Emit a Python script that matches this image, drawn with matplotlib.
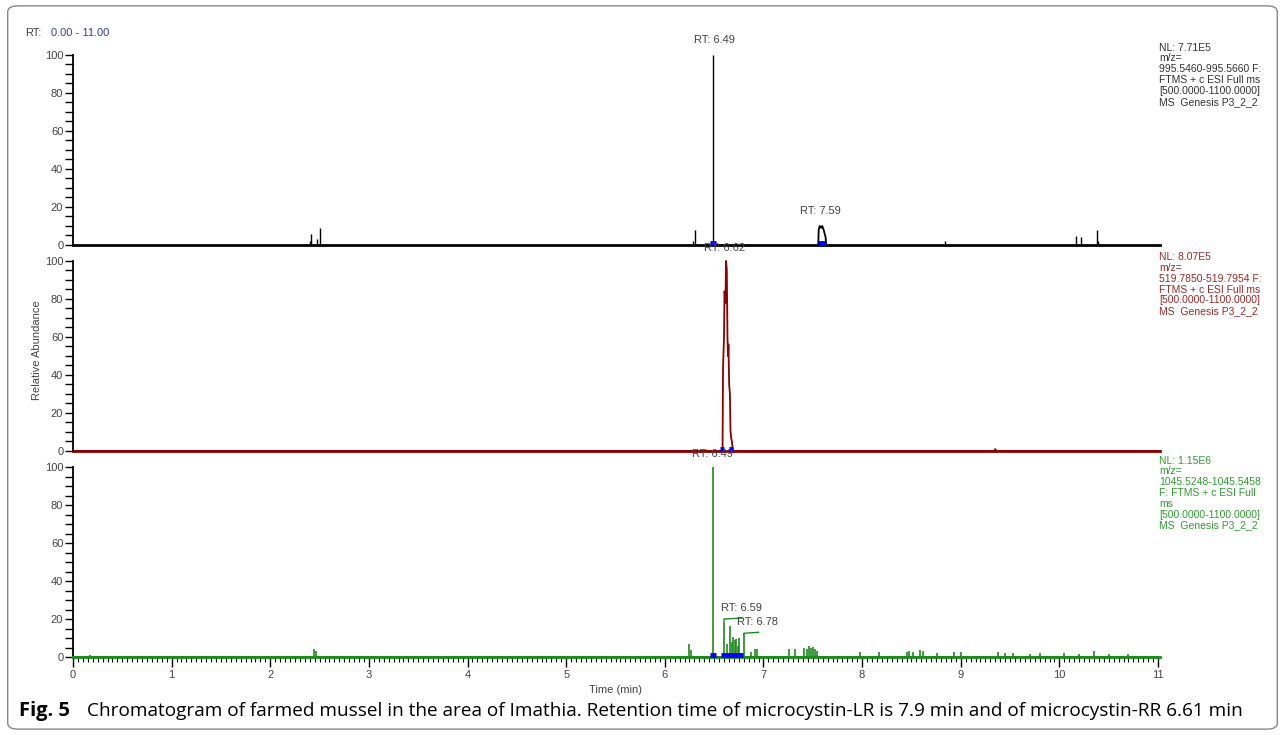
import matplotlib
matplotlib.use('Agg')
import matplotlib.pyplot as plt
from matplotlib.patches import FancyBboxPatch
from matplotlib.ticker import MultipleLocator

# ---- data ----
# panel 1: m/z 995.5 (black)
p1_spike_x = [2.40, 2.41, 2.47, 2.50, 6.29, 6.31, 6.49, 8.84, 10.17, 10.22, 10.38, 10.39]
p1_spike_y = [2, 6, 3, 9, 2, 8, 100, 2, 4.5, 4, 8, 2]
p1_hump_x = [7.555, 7.56, 7.57, 7.585, 7.595, 7.61, 7.62, 7.63, 7.635]
p1_hump_y = [0, 8, 10, 9, 10, 8, 6, 4, 0]

# panel 2: m/z 519.79 (dark red)
p2_x = [0, 6.585, 6.59, 6.60, 6.605, 6.615, 6.62, 6.628, 6.635, 6.64, 6.645,
        6.652, 6.66, 6.665, 6.672, 6.68, 6.69, 9.34, 9.35, 9.36, 11.02]
p2_y = [0, 0, 44, 60, 84, 78, 100, 96, 60, 50, 56, 35, 30, 11, 7, 5, 0, 0, 1, 0, 0]

# panel 3: m/z 1045.5 (green)
p3_spike_x = [0.17, 2.44, 2.46, 6.24, 6.27, 6.49, 6.60, 6.63, 6.66, 6.68, 6.69, 6.71,
              6.72, 6.74, 6.75, 6.80, 6.87, 6.91, 6.93, 7.26, 7.32, 7.41, 7.44,
              7.46, 7.48, 7.50, 7.52, 7.54, 7.98, 8.17, 8.45, 8.48, 8.52, 8.59,
              8.62, 8.76, 8.93, 9.00, 9.38, 9.45, 9.53, 9.70, 9.80, 10.05, 10.20,
              10.35, 10.50, 10.70]
p3_spike_y = [1, 4, 3, 7, 3.5, 100, 18, 7, 16.5, 8, 10.5, 9, 9.5, 6, 10, 12, 2.6, 4,
              4.4, 4.4, 4.4, 5, 4, 6, 5, 5.5, 4, 3, 2.6, 2.6, 2.5, 3, 2.5, 3.5, 3,
              2, 2.5, 2.5, 2.5, 2, 2, 1.5, 2, 2, 1.5, 3, 1.5, 1.5]

# retention-time labels: (panel, x, y, text)
rt_labels = [(0, 6.50, 105, 'RT: 6.49'), (0, 7.58, 15, 'RT: 7.59'),
             (1, 6.61, 104, 'RT: 6.62'),
             (2, 6.48, 104, 'RT: 6.49'), (2, 6.78, 23, 'RT: 6.59'),
             (2, 6.94, 16, 'RT: 6.78')]

# blue integration markers at peak bases
markers = [(0, 6.46, 6.52), (0, 7.55, 7.63),
           (1, 6.56, 6.60), (1, 6.65, 6.69),
           (2, 6.46, 6.52), (2, 6.57, 6.79)]

nl_texts = [
    'NL: 7.71E5\nm/z=\n995.5460-995.5660 F:\nFTMS + c ESI Full ms\n[500.0000-1100.0000]\nMS  Genesis P3_2_2',
    'NL: 8.07E5\nm/z=\n519.7850-519.7954 F:\nFTMS + c ESI Full ms\n[500.0000-1100.0000]\nMS  Genesis P3_2_2',
    'NL: 1.15E6\nm/z=\n1045.5248-1045.5458\nF: FTMS + c ESI Full\nms\n[500.0000-1100.0000]\nMS  Genesis P3_2_2',
]
text_colors = ['#333333', '#a02828', '#2e9e2e']
line_colors = ['black', '#8b0000', '#1e8a1e']

plt.rcParams['font.family'] = ['Liberation Sans', 'DejaVu Sans']

fig = plt.figure(figsize=(12.85, 7.35), dpi=100)

# rounded frame around the figure
frame = FancyBboxPatch((0.006, 0.008), 0.988, 0.984, boxstyle='round,pad=0,rounding_size=0.008',
                       transform=fig.transFigure, fill=False, edgecolor='#888888', lw=1)
fig.patches.append(frame)

left, width = 0.0568, 0.8444
bottoms = [0.6667, 0.3864, 0.1061]
height = 0.2585
axes = []
for i, b in enumerate(bottoms):
    ax = fig.add_axes([left, b, width, height])
    ax.set_xlim(0, 11)
    ax.set_ylim(0, 100)
    for s in ['top', 'right', 'bottom']:
        ax.spines[s].set_visible(False)
    ax.spines['left'].set_linewidth(1.3)
    ax.yaxis.set_major_locator(MultipleLocator(20))
    ax.yaxis.set_minor_locator(MultipleLocator(5))
    ax.tick_params(axis='y', which='both', direction='out', length=6, width=1,
                   labelsize=8, labelcolor='#444444', pad=1)
    ax.set_facecolor('none')
    axes.append(ax)

# x axis only on the bottom panel
ax3 = axes[2]
ax3.spines['bottom'].set_visible(True)
ax3.spines['bottom'].set_color('#1e8a1e')
ax3.spines['bottom'].set_linewidth(1.5)
ax3.xaxis.set_major_locator(MultipleLocator(1))
ax3.xaxis.set_minor_locator(MultipleLocator(0.05))
ax3.tick_params(axis='x', which='major', direction='out', length=7, width=1,
                labelsize=8, labelcolor='#444444', pad=2)
ax3.tick_params(axis='x', which='minor', direction='out', length=3.5, width=0.8)
for ax in axes[:2]:
    ax.set_xticks([])

# panel 1
a = axes[0]
a.plot([0, 11.02], [0, 0], color='black', lw=2, clip_on=False)
a.vlines(p1_spike_x, 0, p1_spike_y, color='black', lw=1)
a.plot(p1_hump_x, p1_hump_y, color='black', lw=1.3)

# panel 2
a = axes[1]
a.plot(p2_x, p2_y, color=line_colors[1], lw=1.3, clip_on=False)
a.plot([0, 11.02], [0, 0], color=line_colors[1], lw=2, clip_on=False)

# panel 3
a = axes[2]
a.plot([0, 11.02], [0, 0], color=line_colors[2], lw=2, clip_on=False)
a.vlines(p3_spike_x, 0, p3_spike_y, color=line_colors[2], lw=1.2)
# leader lines for the labelled small peaks
a.plot([6.60, 6.60, 6.78], [18, 20, 20.5], color=line_colors[2], lw=1)
a.plot([6.80, 6.80, 6.95], [12, 12.5, 13], color=line_colors[2], lw=1)

for p, x0, x1 in markers:
    axes[p].plot([x0, x1], [0.8, 0.8], color='blue', lw=3.5, solid_capstyle='butt',
                 clip_on=False, zorder=5)

for p, x, y, t in rt_labels:
    axes[p].text(x, y, t, ha='center', va='bottom', fontsize=8, color='#444444',
                 clip_on=False, zorder=6)

tops = [0.942, 0.657, 0.380]
for i, t in enumerate(nl_texts):
    fig.text(0.902, tops[i], t, ha='left', va='top', fontsize=7.5,
             color=text_colors[i], linespacing=1.1)

fig.text(0.0195, 0.955, 'RT:', fontsize=8, color='#444444', va='center')
fig.text(0.0395, 0.955, '0.00 - 11.00', fontsize=8, color='#3a3aa8', va='center')

fig.text(0.029, 0.524, 'Relative Abundance', rotation=90, fontsize=8,
         color='#444444', ha='center', va='center')
fig.text(0.479, 0.061, 'Time (min)', fontsize=8, color='#444444', ha='center', va='center')

fig.text(0.015, 0.032, 'Fig. 5', fontsize=14.5, fontweight='bold', family='Open Sans',
         va='center', ha='left')
fig.text(0.068, 0.032, 'Chromatogram of farmed mussel in the area of Imathia. Retention time of '
         'microcystin-LR is 7.9 min and of microcystin-RR 6.61 min',
         fontsize=13.7, family='Open Sans', va='center', ha='left')

fig.savefig('out.png', dpi=100)
